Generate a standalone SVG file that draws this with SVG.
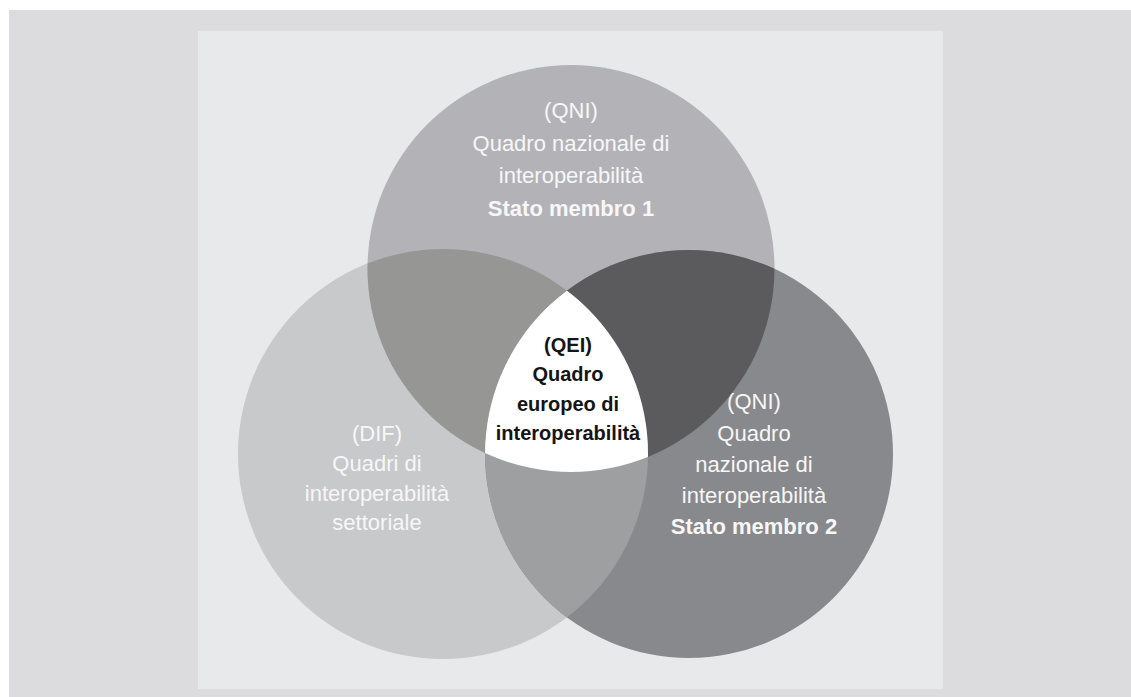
<svg xmlns="http://www.w3.org/2000/svg" width="1131" height="697" viewBox="0 0 1131 697">
  <style>
    .t { font-family: "Liberation Sans", Arial, sans-serif; font-size: 22px; text-anchor: middle; fill: #f7f7f7; }
    .b { font-weight: bold; }
    .c { font-family: "Liberation Sans", Arial, sans-serif; font-size: 20px; font-weight: bold; text-anchor: middle; fill: #141414; }
  </style>
  <defs>
    <clipPath id="cT"><circle cx="571" cy="268.5" r="203.5"/></clipPath>
    <clipPath id="cL"><circle cx="443" cy="454" r="205"/></clipPath>
    <clipPath id="cR"><circle cx="689" cy="454" r="204"/></clipPath>
  </defs>
  <rect x="0" y="0" width="1131" height="697" fill="#ffffff"/>
  <rect x="9" y="10" width="1122" height="687" fill="#dcdcde"/>
  <rect x="198" y="31" width="745" height="658" fill="#e8e9eb"/>

  <g id="node-dif-shape"><circle cx="443" cy="454" r="205" fill="#c8c9cb"/></g>
  <g id="node-qni1-shape"><circle cx="571" cy="268.5" r="203.5" fill="#b3b3b7"/></g>
  <g id="node-qni2-shape"><circle cx="689" cy="454" r="204" fill="#88898d"/></g>

  <g id="overlaps">
    <circle cx="443" cy="454" r="205" fill="#969794" clip-path="url(#cT)"/>
    <circle cx="571" cy="268.5" r="203.5" fill="#5b5b5e" clip-path="url(#cR)"/>
    <circle cx="443" cy="454" r="205" fill="#9e9fa1" clip-path="url(#cR)"/>
    <g clip-path="url(#cR)">
      <circle cx="443" cy="454" r="205" fill="#ffffff" clip-path="url(#cT)"/>
    </g>
  </g>

  <g id="node-qni1">
    <text class="t" x="571" y="118">(QNI)</text>
    <text class="t" x="571" y="151">Quadro nazionale di</text>
    <text class="t" x="571" y="183">interoperabilità</text>
    <text class="t b" x="571" y="216">Stato membro 1</text>
  </g>
  <g id="node-dif">
    <text class="t" x="377" y="441">(DIF)</text>
    <text class="t" x="377" y="471">Quadri di</text>
    <text class="t" x="377" y="501">interoperabilità</text>
    <text class="t" x="377" y="530">settoriale</text>
  </g>
  <g id="node-qni2">
    <text class="t" x="754" y="409">(QNI)</text>
    <text class="t" x="754" y="441">Quadro</text>
    <text class="t" x="754" y="472">nazionale di</text>
    <text class="t" x="754" y="503">interoperabilità</text>
    <text class="t b" x="754" y="534">Stato membro 2</text>
  </g>
  <g id="node-qei">
    <text class="c" x="568" y="352">(QEI)</text>
    <text class="c" x="568" y="381">Quadro</text>
    <text class="c" x="568" y="411">europeo di</text>
    <text class="c" x="568" y="440">interoperabilità</text>
  </g>
  <g id="connectors"/>
</svg>
